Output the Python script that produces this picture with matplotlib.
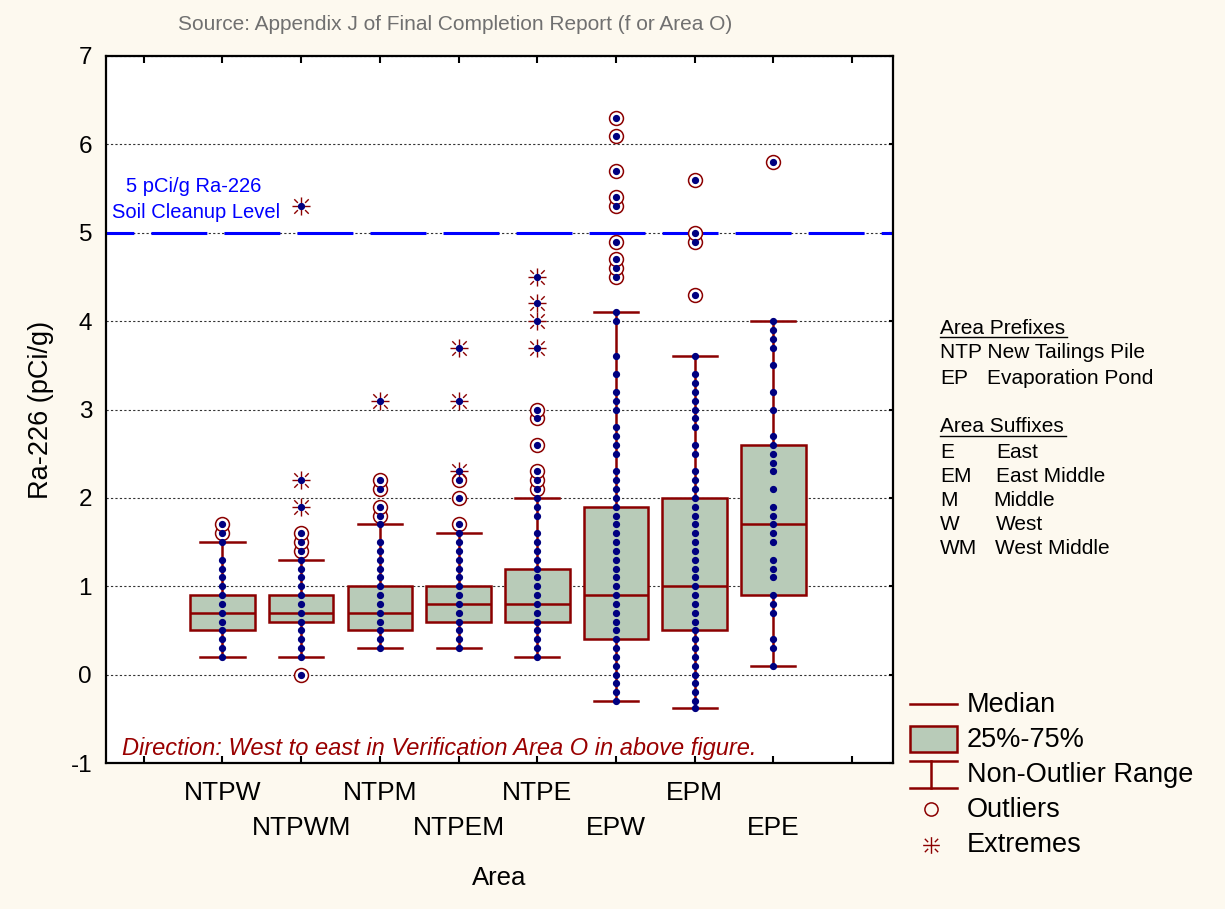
import matplotlib
matplotlib.use("Agg")
import matplotlib.pyplot as plt
from matplotlib.path import Path
from matplotlib.patches import Rectangle

plt.rcParams['font.family'] = ['Liberation Sans', 'DejaVu Sans']
plt.rcParams['axes.unicode_minus'] = False

# Dados por área (pCi/g de Ra-226)
areas = ["NTPW", "NTPWM", "NTPM", "NTPEM", "NTPE", "EPW", "EPM", "EPE"]
q1 = [0.5, 0.6, 0.5, 0.6, 0.6, 0.4, 0.5, 0.9]
mediana = [0.7, 0.7, 0.7, 0.8, 0.8, 0.9, 1.0, 1.7]
q3 = [0.9, 0.9, 1.0, 1.0, 1.2, 1.9, 2.0, 2.6]
whisk_lo = [0.2, 0.2, 0.3, 0.3, 0.2, -0.3, -0.38, 0.1]
whisk_hi = [1.5, 1.3, 1.7, 1.6, 2.0, 4.1, 3.6, 4.0]

ntpw = [0.2, 0.3, 0.4, 0.5, 0.6, 0.7, 0.8, 0.9, 1.0, 1.1, 1.2, 1.3, 1.5, 1.6, 1.7]
ntpwm = [0.0, 0.2, 0.3, 0.4, 0.5, 0.6, 0.7, 0.8, 0.9, 1.0, 1.1, 1.2, 1.3, 1.4, 1.5,
         1.6, 1.9, 2.2, 5.3]
ntpm = [0.3, 0.4, 0.5, 0.6, 0.7, 0.8, 0.9, 1.0, 1.1, 1.2, 1.3, 1.4, 1.5, 1.7, 1.8,
        1.9, 2.1, 2.2, 3.1]
ntpem = [0.3, 0.4, 0.5, 0.6, 0.7, 0.8, 0.9, 1.0, 1.1, 1.2, 1.3, 1.4, 1.5, 1.6, 1.7,
         2.0, 2.2, 2.3, 3.1, 3.7]
ntpe = [0.2, 0.3, 0.4, 0.5, 0.6, 0.7, 0.8, 0.9, 1.0, 1.1, 1.2, 1.3, 1.4, 1.5, 1.6,
        1.8, 1.9, 2.0, 2.1, 2.2, 2.3, 2.6, 2.9, 3.0, 3.7, 4.0, 4.2, 4.5]
epw = [-0.3, -0.2, -0.1, 0.0, 0.1, 0.2, 0.3, 0.4, 0.5, 0.6, 0.7, 0.8, 0.9, 1.0, 1.1,
       1.2, 1.3, 1.4, 1.5, 1.6, 1.7, 1.8, 1.9, 2.0, 2.1, 2.2, 2.3, 2.5, 2.6, 2.7,
       2.8, 3.0, 3.1, 3.2, 3.4, 3.6, 4.0, 4.1, 4.5, 4.6, 4.7, 4.9, 5.3, 5.4, 5.7,
       6.1, 6.3]
epm = [-0.38, -0.3, -0.2, -0.1, 0.0, 0.1, 0.2, 0.3, 0.4, 0.5, 0.6, 0.7, 0.8, 0.9,
       1.0, 1.1, 1.2, 1.3, 1.4, 1.5, 1.6, 1.7, 1.8, 1.9, 2.0, 2.1, 2.2, 2.3, 2.5,
       2.6, 2.8, 2.9, 3.0, 3.1, 3.2, 3.3, 3.4, 3.6, 4.3, 4.9, 5.0, 5.6]
epe = [0.1, 0.3, 0.4, 0.7, 0.8, 0.9, 1.1, 1.2, 1.3, 1.5, 1.6, 1.7, 1.8, 1.9, 2.1,
       2.3, 2.4, 2.5, 2.6, 2.7, 3.0, 3.2, 3.5, 3.7, 3.8, 3.9, 4.0, 5.8]
amostras = [ntpw, ntpwm, ntpm, ntpem, ntpe, epw, epm, epe]

limite = 5.0

# Cores
vermelho = "#8B0000"
caixa = "#B8CBB8"
azul_pt = "#000080"
fundo = "#FDF9EF"

# Marcador "extremo": cruz com diagonais tracejadas
segs = [(-1, 0), (1, 0), (0, -1), (0, 1),
        (0.4, 0.4), (0.8, 0.8), (-0.4, -0.4), (-0.8, -0.8),
        (0.4, -0.4), (0.8, -0.8), (-0.4, 0.4), (-0.8, 0.8)]
codes = [Path.MOVETO, Path.LINETO] * 6
estrela = Path(segs, codes)

W, H = 1225, 909
fig = plt.figure(figsize=(W / 100, H / 100), dpi=100, facecolor=fundo)
ax = fig.add_axes([106 / W, 1 - 763 / H, 787 / W, 707 / H])
ax.set_facecolor("white")

pos = list(range(1, len(areas) + 1))
stats = []
for i in range(len(areas)):
    stats.append(dict(med=mediana[i], q1=q1[i], q3=q3[i],
                      whislo=whisk_lo[i], whishi=whisk_hi[i], fliers=[]))

ax.bxp(stats, positions=pos, widths=0.82, capwidths=0.56, patch_artist=True,
       showfliers=False,
       boxprops=dict(facecolor=caixa, edgecolor=vermelho, linewidth=1.8),
       medianprops=dict(color=vermelho, linewidth=1.8),
       whiskerprops=dict(color=vermelho, linewidth=1.8),
       capprops=dict(color=vermelho, linewidth=1.8), zorder=3)

# Outliers / extremos
for i, vals in enumerate(amostras):
    iqr = q3[i] - q1[i]
    outl, extr = [], []
    for v in vals:
        if v > whisk_hi[i] + 1e-9 or v < whisk_lo[i] - 1e-9:
            if v > q3[i] + 3 * iqr + 1e-9 or v < q1[i] - 3 * iqr - 1e-9:
                extr.append(v)
            else:
                outl.append(v)
    ax.plot([pos[i]] * len(outl), outl, linestyle="none", marker="o", markersize=10,
            markerfacecolor="white", markeredgecolor=vermelho, markeredgewidth=1.1, zorder=4)
    ax.plot([pos[i]] * len(extr), extr, linestyle="none", marker=estrela, markersize=13,
            color=vermelho, markeredgewidth=1.0, zorder=4)
    ax.plot([pos[i]] * len(vals), vals, linestyle="none", marker="o", markersize=4.2,
            color=azul_pt, zorder=5)

# Grelha e linha limite
ax.set_yticks(range(-1, 8))
ax.yaxis.grid(True, linestyle=(0, (2, 2)), color="#333333", linewidth=0.8, zorder=1)
ax.set_axisbelow(True)
ax.axhline(limite, color="#0000FF", linewidth=2.2, linestyle=(9.2, (18.3, 5.6)), zorder=2)

ax.set_xlim(-0.48, 9.52)
ax.set_ylim(-1, 7)
ax.set_xticks(range(0, 10))
ax.tick_params(axis="x", which="both", direction="in", top=True, bottom=True,
               labelbottom=False, length=5, width=1.5)
ax.tick_params(axis="y", direction="in", left=False, right=True, length=3, width=1.5,
               labelsize=17.5, pad=10)
for s in ax.spines.values():
    s.set_linewidth(1.6)

# Rótulos das categorias em duas linhas
for i, nome in enumerate(areas):
    yy = -0.0424 if i % 2 == 0 else -0.092
    ax.text(pos[i], yy, nome, transform=ax.get_xaxis_transform(), fontsize=19,
            ha="center", va="center")

ax.set_ylabel("Ra-226 (pCi/g)", fontsize=19.5)
ax.yaxis.set_label_coords(-0.066, 0.5)
ax.set_xlabel("Area", fontsize=18.5)
ax.xaxis.set_label_coords(0.5, -0.145)

# Camada em píxeis para textos e legenda
lax = fig.add_axes([0, 0, 1, 1])
lax.set_xlim(0, W)
lax.set_ylim(H, 0)
lax.axis("off")
lax.patch.set_alpha(0)

lax.text(194, 187, "5 pCi/g Ra-226", fontsize=14.5, color="#0000FF", ha="center", va="center")
lax.text(196, 213, "Soil Cleanup Level", fontsize=14.5, color="#0000FF", ha="center", va="center")
lax.text(455, 25, "Source: Appendix J of Final Completion Report (f or Area O)", fontsize=15,
         color="#707070", ha="center", va="center")
lax.text(122, 748, "Direction: West to east in Verification Area O in above figure.",
         fontsize=17, style="italic", color="#990000", ha="left", va="center")

# Notas à direita
fs_n = 15
lax.text(940, 329, "Area Prefixes", fontsize=fs_n, ha="left", va="center")
lax.plot([940, 1067], [337, 337], color="black", linewidth=1)
lax.text(940, 353, "NTP New Tailings Pile", fontsize=fs_n, ha="left", va="center")
lax.text(940, 378, "EP", fontsize=fs_n, ha="left", va="center")
lax.text(987, 378, "Evaporation Pond", fontsize=fs_n, ha="left", va="center")
lax.text(940, 427, "Area Suffixes", fontsize=fs_n, ha="left", va="center")
lax.plot([940, 1066], [436, 436], color="black", linewidth=1)
sufixos = [("E", "East", 996, 452), ("EM", "East Middle", 996, 476),
           ("M", "Middle", 993, 500), ("W", "West", 996, 524),
           ("WM", "West Middle", 995, 548)]
for ab, desc, xd, yy in sufixos:
    lax.text(940, yy, ab, fontsize=fs_n, ha="left", va="center")
    lax.text(xd, yy, desc, fontsize=fs_n, ha="left", va="center")

# Legenda
lax.plot([910, 957], [704, 704], color=vermelho, linewidth=1.8)
lax.add_patch(Rectangle((910, 726), 47, 26, facecolor=caixa, edgecolor=vermelho, linewidth=1.8))
lax.plot([910, 957], [761, 761], color=vermelho, linewidth=1.8)
lax.plot([910, 957], [788, 788], color=vermelho, linewidth=1.8)
lax.plot([931, 931], [761, 788], color=vermelho, linewidth=1.8)
lax.plot([931], [809], marker="o", markersize=9.5, markerfacecolor="none",
         markeredgecolor=vermelho, markeredgewidth=1.1)
lax.plot([931], [845], marker=estrela, markersize=12, color=vermelho, markeredgewidth=1.0)
for txt, yy in [("Median", 705), ("25%-75%", 740), ("Non-Outlier Range", 775),
                ("Outliers", 810), ("Extremes", 845)]:
    lax.text(967, yy, txt, fontsize=19.5, ha="left", va="center")

plt.savefig("out.png", dpi=100, facecolor=fundo)
